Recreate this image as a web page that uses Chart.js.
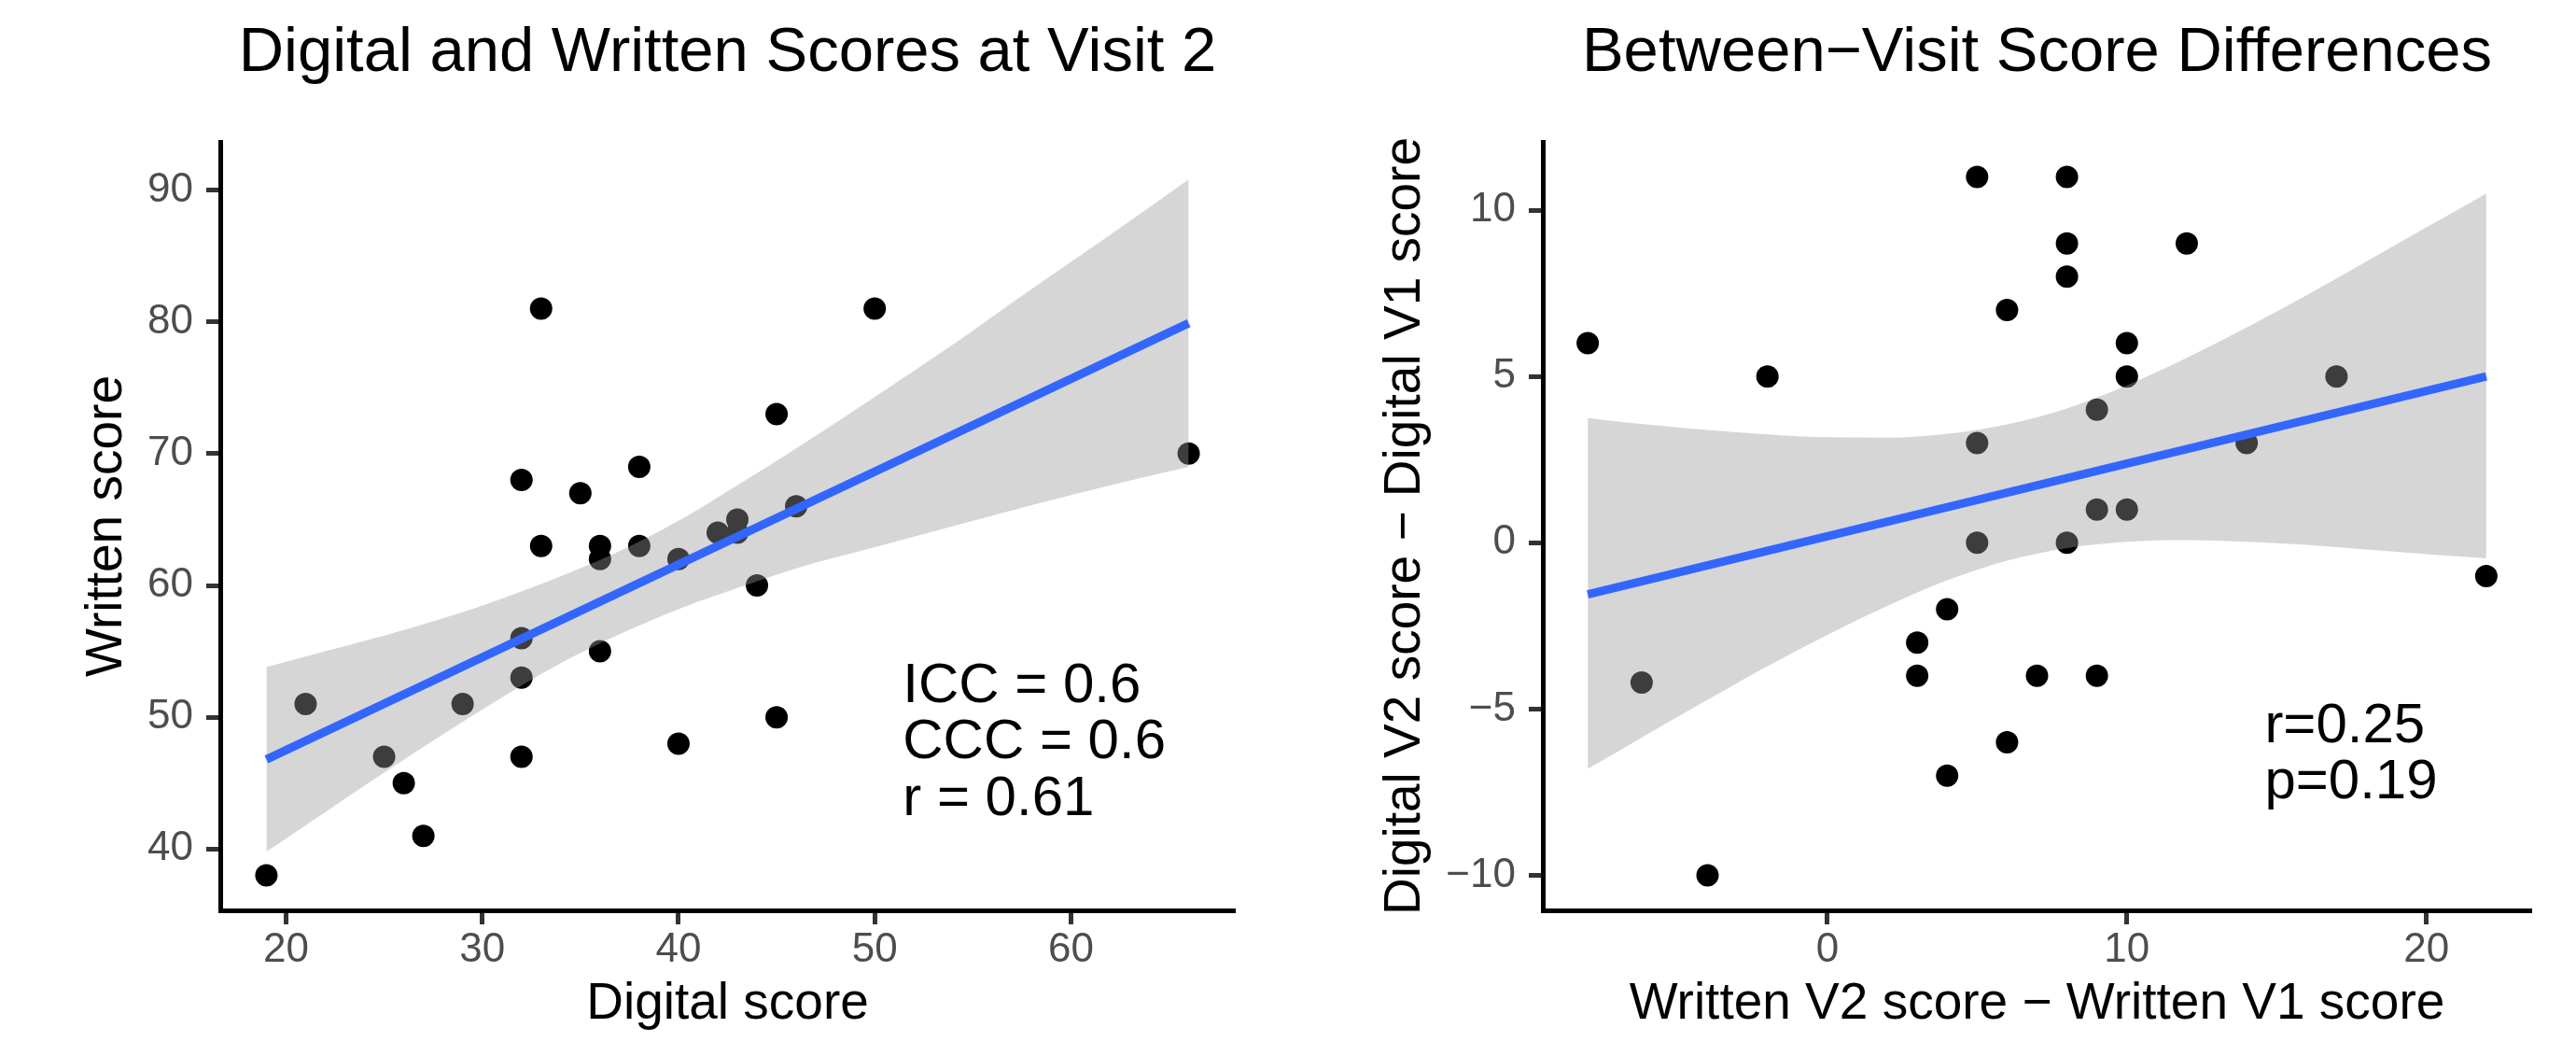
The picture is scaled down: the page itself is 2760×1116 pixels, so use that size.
<!DOCTYPE html>
<html>
<head>
<meta charset="utf-8">
<title>Digital and Written Scores</title>
<script src="https://cdn.jsdelivr.net/npm/chart.js@4.4.1/dist/chart.umd.min.js"></script>
<style>
  body { margin: 0; background: #fff; }
  .panel { position: absolute; top: 0; width: 1380px; height: 1116px; }
</style>
</head>
<body>
<div class="panel" style="left:0"><canvas id="leftChart" width="1380" height="1116"></canvas></div>
<div class="panel" style="left:1380px"><canvas id="rightChart" width="1380" height="1116"></canvas></div>
<script>
// ===== Left panel: visit 2 scores =====
const digitalScore = [33, 45, 32, 35, 38, 33, 36, 36, 38, 40, 42, 43, 43, 46, 50, 66, 44, 32, 36, 32, 21, 29, 45, 40, 25, 32, 26, 27, 19];
const writtenScore = [81, 73, 68, 67, 69, 63, 63, 62, 63, 62, 64, 65, 64, 66, 81, 70, 60, 56, 55, 53, 51, 51, 50, 48, 47, 47, 45, 41, 38];
const leftFitX = [19, 66];
const leftFitY = [46.8, 79.9];
const leftBandX = [19, 22, 25, 28, 31, 34, 37, 40, 43, 46, 50, 54, 58, 62, 66];
const leftBandHigh = [53.8, 55.0, 56.2, 57.5, 59.0, 60.7, 62.6, 64.9, 67.6, 70.4, 74.3, 78.3, 82.5, 86.6, 90.8];
const leftBandLow = [39.8, 42.8, 45.8, 48.7, 51.5, 54.1, 56.3, 58.2, 59.8, 61.3, 62.9, 64.5, 66.1, 67.6, 69.0];
const leftXTicks = [20, 30, 40, 50, 60];
const leftYTicks = [40, 50, 60, 70, 80, 90];
const leftNote = ["ICC = 0.6", "CCC = 0.6", "r = 0.61"];

// ===== Right panel: between-visit differences =====
const writtenDiff = [-8, -2, 5, 8, 8, 12, 8, 6, 10, 10, 17, 9, 5, 14, 9, 10, 5, 8, 22, 4, 3, 3, 7, 9, -6.2, 6, 4, -4];
const digitalDiff = [6, 5, 11, 11, 9, 9, 8, 7, 6, 5, 5, 4, 3, 3, 1, 1, 0, 0, -1, -2, -3, -4, -4, -4, -4.2, -6, -7, -10];
const rightFitX = [-8, 22];
const rightFitY = [-1.55, 5.0];
const rightBandX = [-8, -6, -4, -2, 0, 2, 4, 6, 8, 10, 12, 14, 16, 18, 20, 22];
const rightBandHigh = [3.75, 3.55, 3.39, 3.26, 3.17, 3.16, 3.27, 3.56, 4.04, 4.73, 5.56, 6.47, 7.44, 8.46, 9.48, 10.5];
const rightBandLow = [-6.8, -5.75, -4.72, -3.71, -2.77, -1.90, -1.13, -0.54, -0.16, 0.03, 0.08, 0.03, -0.06, -0.20, -0.34, -0.47];
const rightXTicks = [0, 10, 20];
const rightYTicks = [-10, -5, 0, 5, 10];
const rightNote = ["r=0.25", "p=0.19"];

// ===== Shared styling =====
const FONT = "'Liberation Sans', Arial, sans-serif";
const toPoints = (xs, ys) => xs.map((x, i) => ({ x, y: ys[i] }));
const minus = v => String(v).replace("-", "\u2212");

// text block drawn in data coordinates (like ggplot annotate)
const notePlugin = {
  id: "note",
  afterDatasetsDraw(chart, args, opts) {
    const { ctx, scales } = chart;
    const x = scales.x.getPixelForValue(opts.x);
    const y = scales.y.getPixelForValue(opts.y);
    ctx.save();
    ctx.font = `60px ${FONT}`;
    ctx.fillStyle = "#000";
    ctx.textAlign = "left";
    ctx.textBaseline = "alphabetic";
    opts.lines.forEach((t, i) => ctx.fillText(t, x, y + i * opts.lineHeight));
    ctx.restore();
  }
};

function axis(range, ticks, titleText, titleOpts, fitSize, isX) {
  return {
    type: "linear",
    min: range[0],
    max: range[1],
    afterBuildTicks: s => { s.ticks = ticks.map(v => ({ value: v })); },
    afterFit: s => { if (isX) s.height = fitSize; else s.width = fitSize; },
    grid: { display: true, drawOnChartArea: false, drawTicks: true, tickLength: 15, tickWidth: 5, tickColor: "#333333" },
    border: { display: true, color: "#000", width: 5 },
    ticks: {
      autoSkip: false, maxRotation: 0,
      padding: isX ? 1 : 14,
      color: "#4D4D4D",
      font: { family: FONT, size: 44, lineHeight: 1.2 },
      callback: v => minus(v)
    },
    title: Object.assign({ display: true, text: titleText, color: "#000", font: { family: FONT, size: 55, lineHeight: 1.2 } }, titleOpts)
  };
}

function makeChart(id, cfg) {
  return new Chart(document.getElementById(id), {
    type: "scatter",
    data: {
      datasets: [
        { type: "scatter", data: toPoints(cfg.xs, cfg.ys), pointRadius: 12, pointBackgroundColor: "#000", pointBorderWidth: 0, order: 3 },
        { type: "line", data: toPoints(cfg.bandX, cfg.bandHigh), borderWidth: 0, pointRadius: 0, fill: "+1",
          backgroundColor: "rgba(153,153,153,0.4)", cubicInterpolationMode: "monotone", order: 2 },
        { type: "line", data: toPoints(cfg.bandX, cfg.bandLow), borderWidth: 0, pointRadius: 0, fill: false,
          cubicInterpolationMode: "monotone", order: 2 },
        { type: "line", data: toPoints(cfg.fitX, cfg.fitY), borderColor: "#3366FF", borderWidth: 9, pointRadius: 0,
          fill: false, order: 1 }
      ]
    },
    options: {
      responsive: false,
      animation: false,
      layout: { padding: { left: 0, right: cfg.padRight, top: 0, bottom: 0 } },
      plugins: {
        legend: { display: false },
        tooltip: { enabled: false },
        title: {
          display: true, text: cfg.title, fullSize: false, color: "#000",
          font: { family: FONT, size: 67, weight: "normal", lineHeight: 1.2 },
          padding: { top: 17.5, bottom: 54.1 }
        },
        note: cfg.note
      },
      scales: {
        x: axis(cfg.xRange, cfg.xTicks, cfg.xTitle, { padding: { top: 0, bottom: 7 } }, 141, true),
        y: axis(cfg.yRange, cfg.yTicks, cfg.yTitle, { padding: { top: cfg.yTitlePad, bottom: 0 } }, cfg.yAxisWidth, false)
      }
    },
    plugins: [notePlugin]
  });
}

// ===== Build charts =====
makeChart("leftChart", {
  title: "Digital and Written Scores at Visit 2",
  xs: digitalScore, ys: writtenScore,
  fitX: leftFitX, fitY: leftFitY,
  bandX: leftBandX, bandHigh: leftBandHigh, bandLow: leftBandLow,
  xRange: [16.65, 68.35], yRange: [35.35, 93.65],
  xTicks: leftXTicks, yTicks: leftYTicks,
  xTitle: "Digital score", yTitle: "Written score",
  yAxisWidth: 236, yTitlePad: 82, padRight: 57,
  note: { x: 51.43, y: 51.15, lineHeight: 60.5, lines: leftNote }
});

makeChart("rightChart", {
  title: "Between\u2212Visit Score Differences",
  xs: writtenDiff, ys: digitalDiff,
  fitX: rightFitX, fitY: rightFitY,
  bandX: rightBandX, bandHigh: rightBandHigh, bandLow: rightBandLow,
  xRange: [-9.5, 23.5], yRange: [-11.05, 12.05],
  xTicks: rightXTicks, yTicks: rightYTicks,
  xTitle: "Written V2 score \u2212 Written V1 score", yTitle: "Digital V2 score \u2212 Digital V1 score",
  yAxisWidth: 273, yTitlePad: 93, padRight: 48,
  note: { x: 14.6, y: -6.0, lineHeight: 59.5, lines: rightNote }
});
</script>
</body>
</html>
